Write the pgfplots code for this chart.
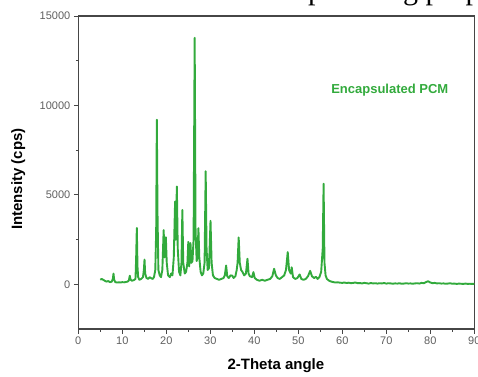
\documentclass[border=0pt]{standalone}
\usepackage{fontspec}
\setmainfont{Liberation Sans}
\newfontfamily\serifpart{Liberation Serif}
\usepackage{pgfplots}
\pgfplotsset{compat=1.18}
\definecolor{xrdgreen}{RGB}{50,170,60}
\definecolor{axgray}{RGB}{70,70,70}
\definecolor{ticklab}{RGB}{95,95,95}
\begin{document}
\begin{tikzpicture}
\begin{axis}[
 at={(0,0)}, anchor=south west, scale only axis,
 width=396pt, height=313pt,
 xmin=0, xmax=90, ymin=-2500, ymax=15000,
 xtick={0,10,...,90}, ytick={0,5000,10000,15000},
 minor x tick num=1, minor y tick num=1,
 xtick pos=bottom, ytick pos=left, tick align=outside,
 major tick length=4.5pt, minor tick length=2.5pt,
 axis line style={axgray, line width=1.1pt},
 every tick/.style={axgray, line width=0.9pt},
 scaled y ticks=false,
 /pgf/number format/assume math mode=true,
 /pgf/number format/1000 sep={},
 tick label style={font=\fontsize{11}{12}\selectfont, text=ticklab},
 xlabel={2-Theta angle}, ylabel={Intensity (cps)},
 label style={font=\fontsize{15}{17}\selectfont\bfseries},
 xlabel style={at={(axis description cs:0.499,-0.118)}, anchor=center},
 ylabel style={at={(axis description cs:-0.1515,0.479)}, anchor=center},
]
\addplot[color=xrdgreen, line width=1.9pt, line join=round, no markers] coordinates {
(5.0,250)(5.3,300)(5.6,260)(6.0,200)(6.4,150)(6.8,180)(7.2,120)(7.6,150)(7.85,300)(8.0,600)(8.15,250)(8.4,120)(8.8,100)(9.2,110)(9.6,100)(10.0,120)(10.4,110)(10.8,130)(11.2,150)(11.5,220)(11.7,480)(11.9,250)(12.2,200)(12.6,230)(13.0,300)(13.15,1500)(13.3,3150)(13.45,1000)(13.6,400)(13.9,250)(14.3,300)(14.7,400)(14.9,800)(15.05,1380)(15.2,600)(15.5,350)(15.9,300)(16.2,400)(16.5,350)(16.9,300)(17.2,400)(17.5,800)(17.7,3000)(17.85,9200)(18.0,4000)(18.2,800)(18.5,500)(18.8,400)(19.1,800)(19.4,3030)(19.6,1500)(19.9,2630)(20.1,1200)(20.4,500)(20.8,400)(21.1,600)(21.4,500)(21.7,1500)(22.0,4630)(22.15,2500)(22.4,5470)(22.6,2000)(22.9,700)(23.2,500)(23.45,1200)(23.65,4160)(23.85,1200)(24.2,600)(24.5,700)(24.8,1200)(25.0,2370)(25.2,1000)(25.5,2300)(25.7,1200)(25.95,1300)(26.2,2500)(26.45,13780)(26.65,3000)(26.9,1300)(27.1,1500)(27.3,3140)(27.5,1500)(27.8,700)(28.1,500)(28.4,600)(28.7,1200)(28.95,6320)(29.15,2000)(29.4,800)(29.7,900)(30.05,3550)(30.3,1200)(30.6,500)(31.0,350)(31.5,300)(32.0,250)(32.5,300)(33.0,350)(33.3,500)(33.6,1050)(33.85,450)(34.2,350)(34.6,500)(35.0,480)(35.3,350)(35.7,450)(36.0,800)(36.2,1200)(36.45,2620)(36.7,1200)(37.0,800)(37.3,700)(37.7,500)(38.1,600)(38.45,1430)(38.7,600)(39.0,450)(39.5,400)(39.8,680)(40.1,350)(40.6,250)(41.2,200)(41.8,250)(42.4,200)(43.0,250)(43.6,300)(44.1,450)(44.5,870)(44.9,500)(45.3,350)(45.8,300)(46.3,400)(46.8,500)(47.2,800)(47.6,1800)(47.9,800)(48.3,600)(48.5,950)(48.8,400)(49.3,300)(49.8,350)(50.3,550)(50.7,300)(51.2,250)(51.7,300)(52.2,450)(52.7,750)(53.1,450)(53.6,350)(54.0,420)(54.4,300)(54.8,400)(55.2,700)(55.55,2000)(55.75,5620)(55.95,1200)(56.2,500)(56.5,300)(57.0,200)(57.5,150)(58.0,120)(58.5,100)(59.0,110)(59.5,90)(60.0,80)(60.5,100)(61.0,70)(61.5,90)(62.0,60)(62.5,80)(63.0,100)(63.5,60)(64.0,70)(64.5,50)(65.0,80)(65.5,60)(66.0,40)(66.5,70)(67.0,50)(67.5,60)(68.0,40)(68.5,60)(69.0,50)(69.5,70)(70.0,40)(70.5,60)(71.0,50)(71.5,30)(72.0,50)(72.5,40)(73.0,60)(73.5,30)(74.0,40)(74.5,60)(75.0,40)(75.5,50)(76.0,30)(76.5,50)(77.0,60)(77.5,40)(78.0,80)(78.5,60)(79.0,120)(79.5,170)(80.0,100)(80.5,60)(81.0,80)(81.5,50)(82.0,60)(82.5,40)(83.0,50)(83.5,30)(84.0,40)(84.5,60)(85.0,30)(85.5,40)(86.0,20)(86.5,40)(87.0,30)(87.5,20)(88.0,40)(88.5,20)(89.0,30)(89.5,20)(90.0,30)
};
\node[font=\fontsize{13}{15}\selectfont\bfseries, text=xrdgreen] at (axis cs:70.8,10860) {Encapsulated PCM};
\end{axis}
\begin{scope}
\clip (-78.3pt,-47pt) rectangle (399.7pt,329pt);
\node[font=\serifpart\fontsize{30}{30}\selectfont, anchor=base west, inner sep=0pt] at (174.7pt,329.5pt) {encapsulating properties};
\end{scope}
\pgfresetboundingbox
\useasboundingbox (-78.3pt,-47pt) rectangle (399.7pt,329pt);
\end{tikzpicture}
\end{document}
